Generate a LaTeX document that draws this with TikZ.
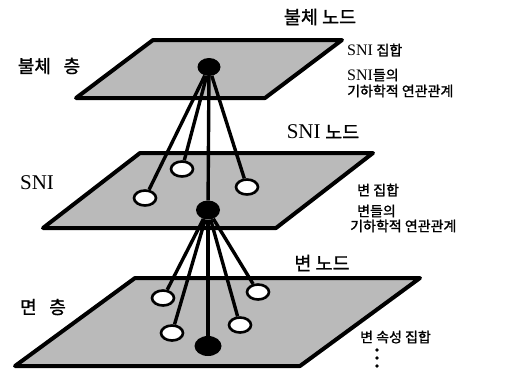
\documentclass[tikz,border=0pt]{standalone}
\usepackage{fontspec}
\setmainfont{Liberation Serif}
\newfontfamily\kr[FakeBold=1.2]{Noto Sans CJK KR}
\usetikzlibrary{shapes.geometric}

\begin{document}
\begin{tikzpicture}[
    x=1pt, y=-1pt,
    plane/.style={draw=black, line width=4pt, fill=black!27,
                  line join=round},
    wdot/.style={ellipse, draw, line width=2.6pt, fill=white,
                 minimum width=22pt, minimum height=15pt, inner sep=0pt},
    bdot/.style={ellipse, fill=black, minimum width=23pt,
                 minimum height=18pt, inner sep=0pt},
    link/.style={line width=3.4pt},
    title/.style={font=\fontsize{18.5}{20}\selectfont, inner sep=0pt},
    note/.style={font=\fontsize{14}{15}\selectfont, anchor=west,
                 inner sep=0pt},
    layer/.style={font=\fontsize{18}{20}\selectfont, inner sep=0pt},
  ]
    \useasboundingbox (0,0) rectangle (519,378);

    % Three layers
    \filldraw[plane] (153,40) -- (342,40) -- (265,98) -- (76,98) -- cycle;
    \filldraw[plane] (140,153) -- (373,153) -- (276,228) -- (43,228) -- cycle;
    \filldraw[plane] (135,278) -- (420,278) -- (300,366) -- (15,366) -- cycle;

    % Object node
    \node[bdot] (obj) at (209,67) {};

    % SNI nodes
    \node[wdot] (s1) at (145,198) {};
    \node[wdot] (s2) at (182,169) {};
    \node[wdot] (s3) at (247,187) {};
    \node[bdot, minimum width=24pt, minimum height=19pt] (sni) at (208,210) {};

    % Edge nodes
    \node[wdot] (e1) at (163,298) {};
    \node[wdot] (e2) at (172,333) {};
    \node[wdot] (e3) at (240,325) {};
    \node[wdot] (e4) at (258,292) {};
    \node[bdot, minimum width=27pt, minimum height=20pt] (edg) at (208,346) {};

    \draw[link] (obj) -- (s1);
    \draw[link] (obj) -- (s2);
    \draw[link] (obj) -- (sni);
    \draw[link] (obj) -- (s3);
    \draw[link] (sni) -- (e1);
    \draw[link] (sni) -- (e2);
    \draw[link] (sni) -- (edg);
    \draw[link] (sni) -- (e3);
    \draw[link] (sni) -- (e4);

    % Layer names
    \node[layer] (l1) at (49,66) {\kr 불체\hspace{0.7em}층};
    \node[layer, font=\fontsize{21}{23}\selectfont] (l2) at (37,183) {SNI};
    \node[layer] (l3) at (43,307) {\kr 면\hspace{0.7em}층};

    % Node titles
    \node[title] (t1) at (320,17) {\kr 불체 노드};
    \node[title] (t2) at (323,132) {{\fontsize{21}{22}\selectfont SNI} {\kr 노드}};
    \node[title] (t3) at (322,263) {\kr 변 노드};

    % Notes
    \node[note] (a1) at (347,50) {{\fontsize{16}{17}\selectfont SNI} {\kr 집합}};
    \node[note] (a2) at (347,75) {{\fontsize{16}{17}\selectfont SNI}{\kr 들의}};
    \node[note] (a3) at (347,91) {\kr 기하학적 연관관계};
    \node[note] (b1) at (357,190) {\kr 변 집합};
    \node[note] (b2) at (357,211) {\kr 변들의};
    \node[note] (b3) at (350,226) {\kr 기하학적 연관관계};
    \node[note] (c1) at (360,337) {\kr 변 속성 집합};

    \foreach \y in {350,358,366}
      \fill (377,\y) circle (1.8pt);
  \end{tikzpicture}
\end{document}
